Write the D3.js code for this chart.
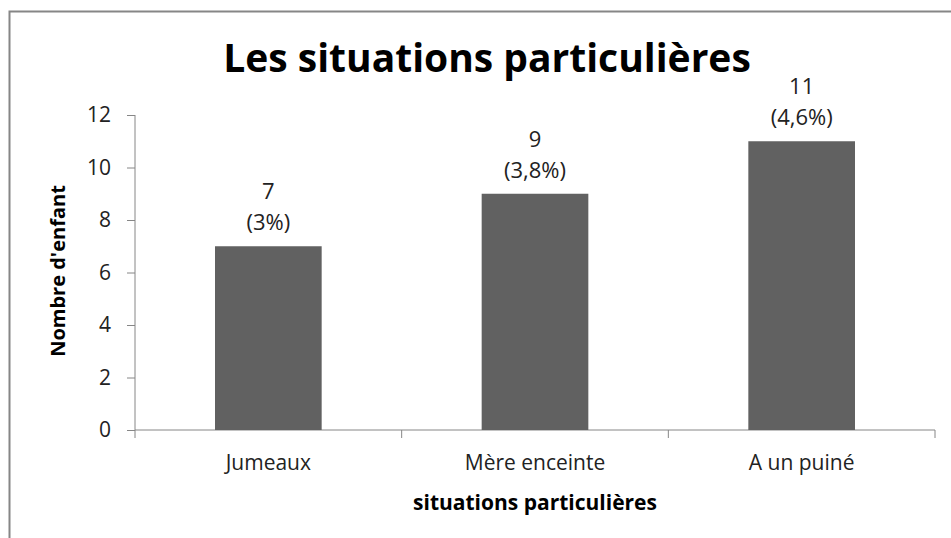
<!DOCTYPE html>
<html>
<head>
<meta charset="utf-8">
<script src="https://cdn.jsdelivr.net/npm/d3@7"></script>
<style>
  body { margin: 0; background: #fff; }
  text { font-family: "Open Sans", "DejaVu Sans", sans-serif; }
</style>
</head>
<body>
<div class="chart"></div>
<script>
(() => {
  const categories = ["Jumeaux", "Mère enceinte", "A un puiné"];
  const values = [7, 9, 11];
  const percents = ["(3%)", "(3,8%)", "(4,6%)"];
  const yTicks = [0, 2, 4, 6, 8, 10, 12];

  const width = 951, height = 538;
  const margin = { top: 115, right: 16, bottom: 108, left: 135 };
  const innerWidth = width - margin.left - margin.right;
  const innerHeight = height - margin.top - margin.bottom;

  const svg = d3.select(".chart").append("svg")
    .attr("width", width)
    .attr("height", height);

  // outer chart frame
  svg.append("rect")
    .attr("x", 9.5).attr("y", 11.5)
    .attr("width", width + 10).attr("height", height + 10)
    .attr("fill", "none")
    .attr("stroke", "#868686")
    .attr("stroke-width", 2);

  const g = svg.append("g")
    .attr("transform", `translate(${margin.left},${margin.top})`);

  const x = d3.scaleBand().domain(categories).range([0, innerWidth]).paddingInner(0.6).paddingOuter(0.3);
  const xTicks = d3.scaleBand().domain(categories).range([0, innerWidth]);
  const y = d3.scaleLinear().domain([0, 12]).range([innerHeight, 0]);

  // y axis
  const yAxis = g.append("g")
    .call(d3.axisLeft(y).tickValues(yTicks).tickSize(8).tickPadding(16));
  yAxis.selectAll("line, path").attr("stroke", "#868686");
  yAxis.select(".domain").attr("d", `M0,0V${innerHeight}`);
  yAxis.selectAll("text")
    .attr("font-size", 21)
    .attr("font-family", "Open Sans, sans-serif")
    .attr("fill", "#222");

  // x axis with tick marks at category boundaries
  const xAxisG = g.append("g").attr("transform", `translate(0,${innerHeight})`);
  xAxisG.append("line")
    .attr("x1", 0).attr("x2", innerWidth)
    .attr("stroke", "#868686");
  const bounds = categories.map(c => xTicks(c)).concat([innerWidth]);
  xAxisG.selectAll(".bt").data(bounds).enter().append("line")
    .attr("x1", d => d).attr("x2", d => d)
    .attr("y1", 0).attr("y2", 8)
    .attr("stroke", "#868686");
  xAxisG.selectAll(".cl").data(categories).enter().append("text")
    .attr("x", d => xTicks(d) + xTicks.bandwidth() / 2)
    .attr("y", 40)
    .attr("text-anchor", "middle")
    .attr("font-size", 21)
    .attr("fill", "#222")
    .text(d => d);

  // bars
  g.selectAll("rect.bar").data(values).enter().append("rect")
    .attr("class", "bar")
    .attr("x", (d, i) => x(categories[i]))
    .attr("y", d => y(d))
    .attr("width", x.bandwidth())
    .attr("height", d => innerHeight - y(d))
    .attr("fill", "#616161");

  // data labels
  const lbl = g.selectAll("text.lbl").data(values).enter().append("text")
    .attr("class", "lbl")
    .attr("text-anchor", "middle")
    .attr("font-size", 22)
    .attr("fill", "#222");
  lbl.append("tspan")
    .attr("x", (d, i) => x(categories[i]) + x.bandwidth() / 2)
    .attr("y", d => y(d) - 47)
    .text(d => d);
  lbl.append("tspan")
    .attr("x", (d, i) => x(categories[i]) + x.bandwidth() / 2)
    .attr("y", d => y(d) - 16)
    .text((d, i) => percents[i]);

  // titles
  svg.append("text")
    .attr("x", 487).attr("y", 72)
    .attr("text-anchor", "middle")
    .attr("font-size", 39)
    .attr("font-weight", "bold")
    .attr("fill", "#000")
    .text("Les situations particulières");

  svg.append("text")
    .attr("x", margin.left + innerWidth / 2).attr("y", 510)
    .attr("text-anchor", "middle")
    .attr("font-size", 21)
    .attr("font-weight", "bold")
    .attr("fill", "#000")
    .text("situations particulières");

  svg.append("text")
    .attr("transform", `translate(65,271) rotate(-90)`)
    .attr("text-anchor", "middle")
    .attr("font-size", 20)
    .attr("font-weight", "bold")
    .attr("fill", "#000")
    .text("Nombre d'enfant");
})();
</script>
</body>
</html>
